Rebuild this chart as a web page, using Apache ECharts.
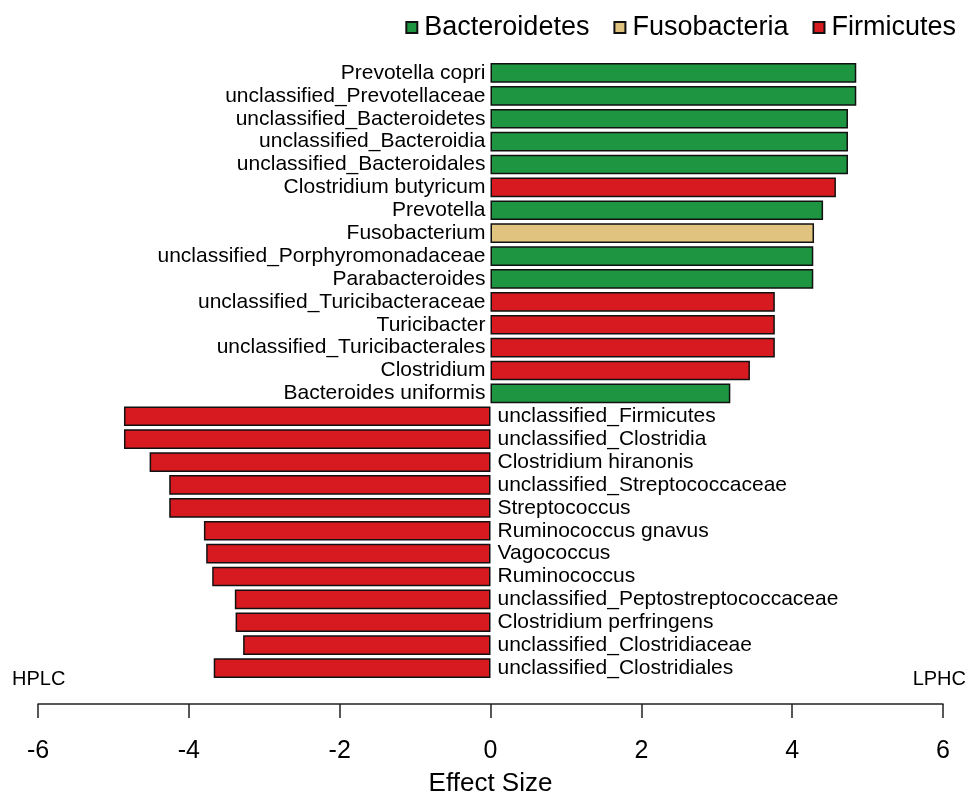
<!DOCTYPE html>
<html><head><meta charset="utf-8">
<script src="https://cdn.jsdelivr.net/npm/echarts@6/dist/echarts.min.js"></script>
<style>html,body{margin:0;padding:0;background:#fff}#c{width:973px;height:797px}</style>
</head><body><div id="c"></div>
<script>
const categories = [
  "Prevotella copri","unclassified_Prevotellaceae","unclassified_Bacteroidetes","unclassified_Bacteroidia",
  "unclassified_Bacteroidales","Clostridium butyricum","Prevotella","Fusobacterium",
  "unclassified_Porphyromonadaceae","Parabacteroides","unclassified_Turicibacteraceae","Turicibacter",
  "unclassified_Turicibacterales","Clostridium","Bacteroides uniformis","unclassified_Firmicutes",
  "unclassified_Clostridia","Clostridium hiranonis","unclassified_Streptococcaceae","Streptococcus",
  "Ruminococcus gnavus","Vagococcus","Ruminococcus","unclassified_Peptostreptococcaceae",
  "Clostridium perfringens","unclassified_Clostridiaceae","unclassified_Clostridiales"
];
const effectSizes = [
  4.85, 4.85, 4.74, 4.74, 4.74, 4.58, 4.41, 4.29, 4.28, 4.28, 3.77, 3.77, 3.77, 3.44, 3.18,
  -4.86, -4.86, -4.52, -4.26, -4.26, -3.80, -3.77, -3.69, -3.39, -3.38, -3.28, -3.67
];
const phyla = [
  "Bacteroidetes","Bacteroidetes","Bacteroidetes","Bacteroidetes","Bacteroidetes","Firmicutes","Bacteroidetes",
  "Fusobacteria","Bacteroidetes","Bacteroidetes","Firmicutes","Firmicutes","Firmicutes","Firmicutes","Bacteroidetes",
  "Firmicutes","Firmicutes","Firmicutes","Firmicutes","Firmicutes","Firmicutes","Firmicutes","Firmicutes",
  "Firmicutes","Firmicutes","Firmicutes","Firmicutes"
];
const phylumNames = ["Bacteroidetes","Fusobacteria","Firmicutes"];
const phylumColors = ["#1e9641","#dfc37f","#d71a1f"];
const xTicks = [-6, 6, 2];
const FONT = 'Liberation Sans, Arial, sans-serif';

const series = phylumNames.map((p, k) => ({
  name: p,
  type: 'bar',
  stack: 'all',
  barCategoryGap: '14%',
  itemStyle: { color: phylumColors[k], borderColor: '#111', borderWidth: 1.5 },
  emphasis: { disabled: true },
  data: effectSizes.map((v, i) => phyla[i] === p ? {
    value: v,
    label: {
      show: true,
      position: v >= 0 ? 'left' : 'right',
      distance: v >= 0 ? 5 : 7,
      formatter: categories[i],
      color: '#000',
      fontSize: 21,
      fontFamily: FONT
    }
  } : null)
}));

const chart = echarts.init(document.getElementById('c'), null, { renderer: 'canvas' });
chart.setOption({
  animation: false,
  backgroundColor: '#fff',
  legend: {
    data: phylumNames,
    right: 12, top: 9,
    itemWidth: 11, itemHeight: 11, itemGap: 24,
    icon: 'rect',
    textStyle: { fontSize: 27, color: '#000', fontFamily: FONT, padding: [0,0,0,2] }
  },
  grid: { left: 38, right: 30, top: 61.5, bottom: 117.5, containLabel: false, outerBoundsMode: 'none' },
  xAxis: {
    type: 'value', min: xTicks[0], max: xTicks[1], interval: xTicks[2],
    position: 'bottom', offset: 24.5,
    axisLine: { show: true, lineStyle: { color: '#222', width: 1.5 } },
    axisTick: { show: true, length: 14, lineStyle: { color: '#222', width: 1.5 } },
    axisLabel: { margin: 35, fontSize: 25, color: '#000', fontFamily: FONT },
    splitLine: { show: false },
    name: 'Effect Size', nameLocation: 'middle', nameGap: 67,
    nameTextStyle: { fontSize: 26, color: '#000', fontFamily: FONT }
  },
  yAxis: {
    type: 'category', data: categories, inverse: true,
    axisLine: { show: false }, axisTick: { show: false }, axisLabel: { show: false }, splitLine: { show: false }
  },
  graphic: [
    { type: 'text', left: 12, top: 669, style: { text: 'HPLC', fontSize: 20, fill: '#000', fontFamily: FONT } },
    { type: 'text', right: 7, top: 669, style: { text: 'LPHC', fontSize: 20, fill: '#000', fontFamily: FONT } }
  ],
  series: series
});
</script>
</body></html>
